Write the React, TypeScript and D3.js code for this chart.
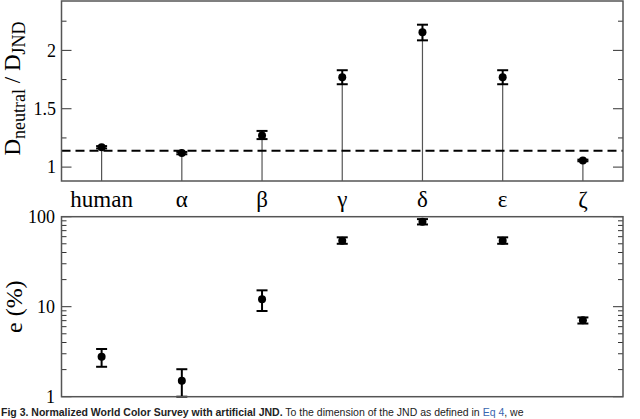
import { useEffect, useRef } from "react";
import * as d3 from "d3";

const categories = ["human", "α", "β", "γ", "δ", "ε", "ζ"];

// top panel: D_neutral / D_JND
const ratioValues = [1.17, 1.12, 1.27, 1.77, 2.155, 1.77, 1.057];
const ratioLow = [1.16, 1.11, 1.24, 1.71, 2.086, 1.71, 1.05];
const ratioHigh = [1.18, 1.13, 1.31, 1.83, 2.22, 1.83, 1.064];
const ratioMajorTicks = [1, 1.5, 2];
const ratioMinorTicks = [1.25, 1.75, 2.25];
const threshold = 1.14;

// bottom panel: e (%)
const errValues = [2.78, 1.5, 12.1, 54, 88, 54, 7.06];
const errLow = [2.15, 1.0, 8.96, 50, 82, 50, 6.5];
const errHigh = [3.39, 2.02, 15.2, 59, 94, 59, 7.6];
const errMajorTicks = [1, 10, 100];
const errMinorTicks = [2, 3, 4, 5, 6, 7, 8, 9, 20, 30, 40, 50, 60, 70, 80, 90];

const W = 640;
const H = 419;
const left = 61.5;
const right = 623;
const topPanel = { top: 1, bottom: 181 };
const botPanel = { top: 216.7, bottom: 396.7 };

export default function App() {
  const ref = useRef<SVGSVGElement | null>(null);

  useEffect(() => {
    if (!ref.current) return;
    const svg = d3.select(ref.current);
    svg.selectAll("*").remove();

    const serif = "'Liberation Serif', 'DejaVu Serif', serif";
    const x = d3.scalePoint<string>().domain(categories).range([left, right]).padding(0.5);

    const yTop = d3.scaleLinear().domain([0.881, 2.423]).range([topPanel.bottom, topPanel.top]);
    const yBot = d3.scaleLog().domain([1, 100]).range([botPanel.bottom, botPanel.top]);

    const drawTicks = (
      scale: (v: number) => number,
      majors: number[],
      minors: number[]
    ) => {
      const g = svg.append("g").attr("stroke", "#333").attr("stroke-width", 1);
      majors.forEach((v) => {
        const y = scale(v);
        g.append("line").attr("x1", left).attr("x2", left + 10).attr("y1", y).attr("y2", y);
        g.append("line").attr("x1", right - 10).attr("x2", right).attr("y1", y).attr("y2", y);
      });
      minors.forEach((v) => {
        const y = scale(v);
        g.append("line").attr("x1", left).attr("x2", left + 5).attr("y1", y).attr("y2", y);
        g.append("line").attr("x1", right - 5).attr("x2", right).attr("y1", y).attr("y2", y);
      });
    };

    const errorBars = (
      scale: (v: number) => number,
      vals: number[],
      lo: number[],
      hi: number[]
    ) => {
      const g = svg.append("g");
      categories.forEach((c, i) => {
        const cx = x(c)!;
        g.append("line")
          .attr("x1", cx).attr("x2", cx)
          .attr("y1", scale(lo[i])).attr("y2", scale(hi[i]))
          .attr("stroke", "#000").attr("stroke-width", 2);
        [lo[i], hi[i]].forEach((v) => {
          g.append("line")
            .attr("x1", cx - 5.5).attr("x2", cx + 5.5)
            .attr("y1", scale(v)).attr("y2", scale(v))
            .attr("stroke", "#000").attr("stroke-width", 2);
        });
        g.append("circle").attr("cx", cx).attr("cy", scale(vals[i])).attr("r", 4).attr("fill", "#000");
      });
    };

    // ---- top panel
    // stems
    svg.append("g")
      .selectAll("line")
      .data(categories)
      .join("line")
      .attr("x1", (c) => x(c)!)
      .attr("x2", (c) => x(c)!)
      .attr("y1", (_, i) => yTop(ratioValues[i]))
      .attr("y2", topPanel.bottom)
      .attr("stroke", "#555")
      .attr("stroke-width", 1.2);

    svg.append("line")
      .attr("x1", left).attr("x2", right)
      .attr("y1", yTop(threshold)).attr("y2", yTop(threshold))
      .attr("stroke", "#000").attr("stroke-width", 1.8)
      .attr("stroke-dasharray", "9,5");

    errorBars(yTop, ratioValues, ratioLow, ratioHigh);
    drawTicks(yTop, ratioMajorTicks, ratioMinorTicks);

    svg.append("rect")
      .attr("x", left).attr("y", topPanel.top)
      .attr("width", right - left).attr("height", topPanel.bottom - topPanel.top)
      .attr("fill", "none").attr("stroke", "#555").attr("stroke-width", 1.5);

    svg.append("g")
      .selectAll("text")
      .data(ratioMajorTicks)
      .join("text")
      .attr("x", 56)
      .attr("y", (d) => yTop(d))
      .attr("dy", "0.35em")
      .attr("text-anchor", "end")
      .attr("font-family", serif)
      .attr("font-size", 18)
      .text((d) => String(d));

    // category labels
    svg.append("g")
      .selectAll("text")
      .data(categories)
      .join("text")
      .attr("x", (c) => x(c)!)
      .attr("y", 206.5)
      .attr("text-anchor", "middle")
      .attr("font-family", serif)
      .attr("font-size", 23)
      .text((c) => c);

    const yl = svg.append("text")
      .attr("transform", "translate(20,88.5) rotate(-90)")
      .attr("text-anchor", "middle")
      .attr("font-family", serif)
      .attr("font-size", 23);
    yl.append("tspan").text("D");
    yl.append("tspan").attr("font-size", 18).attr("dy", 5).text("neutral");
    yl.append("tspan").attr("dy", -5).text(" / D");
    yl.append("tspan").attr("font-size", 18).attr("dy", 5).text("JND");

    // ---- bottom panel
    errorBars(yBot, errValues, errLow, errHigh);
    drawTicks(yBot, errMajorTicks, errMinorTicks);

    svg.append("rect")
      .attr("x", left).attr("y", botPanel.top)
      .attr("width", right - left).attr("height", botPanel.bottom - botPanel.top)
      .attr("fill", "none").attr("stroke", "#555").attr("stroke-width", 1.5);

    svg.append("g")
      .selectAll("text")
      .data(errMajorTicks)
      .join("text")
      .attr("x", 55)
      .attr("y", (d) => yBot(d))
      .attr("dy", "0.35em")
      .attr("text-anchor", "end")
      .attr("font-family", serif)
      .attr("font-size", 18)
      .text((d) => String(d));

    svg.append("text")
      .attr("transform", "translate(21.5,306.7) rotate(-90)")
      .attr("text-anchor", "middle")
      .attr("font-family", serif)
      .attr("font-size", 24)
      .text("e (%)");

    // caption under the figure
    const cap = svg.append("text")
      .attr("x", 1)
      .attr("y", 416)
      .attr("font-family", "'Liberation Sans', Arial, sans-serif")
      .attr("font-size", 10.5)
      .attr("fill", "#222");
    cap.append("tspan").attr("font-weight", "bold").text("Fig 3. Normalized World Color Survey with artificial JND.");
    cap.append("tspan").text(" To the dimension of the JND as defined in ");
    cap.append("tspan").attr("fill", "#3a66b0").text("Eq 4");
    cap.append("tspan").text(", we");
  }, []);

  return (
    <svg
      ref={ref}
      width={W}
      height={H}
      style={{ position: "absolute", left: 0, top: 0, background: "#fff" }}
    />
  );
}
